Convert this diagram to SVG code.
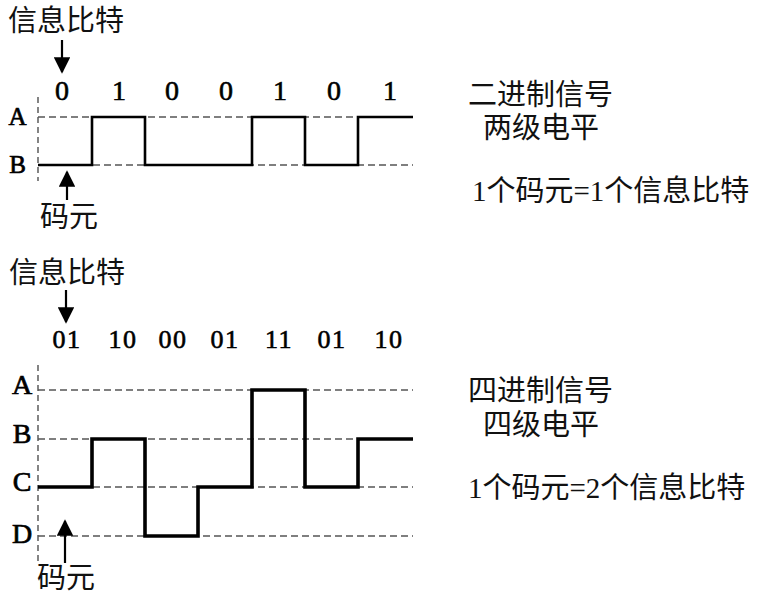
<svg xmlns="http://www.w3.org/2000/svg" width="762" height="602" viewBox="0 0 762 602">
<style>
.cjk{font-family:"Liberation Serif","Noto Sans CJK SC",serif;font-size:29px;fill:#111}
.lbl{font-family:"Liberation Serif",serif;fill:#000;stroke:#000;stroke-width:0.7;text-anchor:middle}
.bits{font-family:"Liberation Serif",serif;fill:#000;stroke:#000;stroke-width:0.6;text-anchor:middle}
.dash{stroke:#555;stroke-width:1.3;stroke-dasharray:7 4;fill:none}
.vdash{stroke:#333;stroke-width:1.2;stroke-dasharray:6 4;fill:none}
.sig1{stroke:#000;stroke-width:2.6;fill:none;stroke-linejoin:miter}
.sig2{stroke:#000;stroke-width:3.6;fill:none;stroke-linejoin:miter}
.arr{stroke:#000;stroke-width:2.2;fill:none;marker-end:url(#ah)}
</style>
<defs>
<marker id="ah" viewBox="0 0 10 10" refX="9" refY="5" markerWidth="7.5" markerHeight="7.5" orient="auto" markerUnits="strokeWidth">
<path d="M0,0 L10,5 L0,10 Z" fill="#000"/>
</marker>
</defs>
<rect width="762" height="602" fill="#fff"/>

<g id="binary">
<g id="grid1">
<line class="vdash" x1="38" y1="97" x2="38" y2="181"/>
<line class="dash" x1="38" y1="117" x2="413" y2="117"/>
<line class="dash" x1="38" y1="165" x2="413" y2="165"/>
</g>
<g id="levels1">
<text class="lbl" font-size="25" x="17.5" y="125">A</text>
<text class="lbl" font-size="25" x="17.5" y="173">B</text>
</g>
<g id="bits1" class="bits" font-size="28">
<text x="62" y="100">0</text>
<text x="119" y="100">1</text>
<text x="172" y="100">0</text>
<text x="226" y="100">0</text>
<text x="280" y="100">1</text>
<text x="334" y="100">0</text>
<text x="390" y="100">1</text>
</g>
<g id="signal1">
<polyline class="sig1" points="38,165 92,165 92,117 145,117 145,165 252,165 252,117 305,117 305,165 358,165 358,117 413,117"/>
</g>
<g id="infobits1">
<text class="cjk" x="8" y="31">信息比特</text>
</g>
<g id="symbol1">
<text class="cjk" x="40" y="227">码元</text>
</g>
<g id="desc1">
<text class="cjk" x="468" y="105" font-size="29.5">二进制信号</text>
<text class="cjk" x="483" y="138" font-size="29.5">两级电平</text>
<text class="cjk" x="472" y="201" font-size="29.5">1个码元=1个信息比特</text>
</g>
</g>

<g id="quaternary">
<g id="grid2">
<line class="vdash" x1="38" y1="365" x2="38" y2="563"/>
<line class="dash" x1="38" y1="390" x2="413" y2="390" stroke="#888"/>
<line class="dash" x1="38" y1="439" x2="413" y2="439"/>
<line class="dash" x1="38" y1="487" x2="413" y2="487"/>
<line class="dash" x1="38" y1="536" x2="413" y2="536"/>
</g>
<g id="levels2">
<text class="lbl" font-size="28" x="22" y="394">A</text>
<text class="lbl" font-size="28" x="22" y="443">B</text>
<text class="lbl" font-size="28" x="22" y="491">C</text>
<text class="lbl" font-size="28" x="22" y="543">D</text>
</g>
<g id="bits2" class="bits" font-size="26" letter-spacing="1.5">
<text x="67" y="348">01</text>
<text x="123" y="348">10</text>
<text x="173" y="348">00</text>
<text x="225" y="348">01</text>
<text x="279" y="348">11</text>
<text x="332" y="348">01</text>
<text x="389" y="348">10</text>
</g>
<g id="signal2">
<polyline class="sig2" points="38,487 92,487 92,439 145,439 145,536 198,536 198,487 252,487 252,390 305,390 305,487 358,487 358,439 413,439"/>
</g>
<g id="infobits2">
<text class="cjk" x="9" y="283">信息比特</text>
</g>
<g id="symbol2">
<text class="cjk" x="37" y="588">码元</text>
</g>
<g id="desc2">
<text class="cjk" x="468" y="401" font-size="29.5">四进制信号</text>
<text class="cjk" x="483" y="435" font-size="29.5">四级电平</text>
<text class="cjk" x="468" y="498" font-size="29.5">1个码元=2个信息比特</text>
</g>
</g>

<g id="connectors">
<line class="arr" x1="62" y1="40" x2="62" y2="72"/>
<line class="arr" x1="67" y1="200" x2="67" y2="172"/>
<line class="arr" x1="66" y1="290" x2="66" y2="322"/>
<line class="arr" x1="65" y1="563" x2="65" y2="521"/>
</g>
</svg>
